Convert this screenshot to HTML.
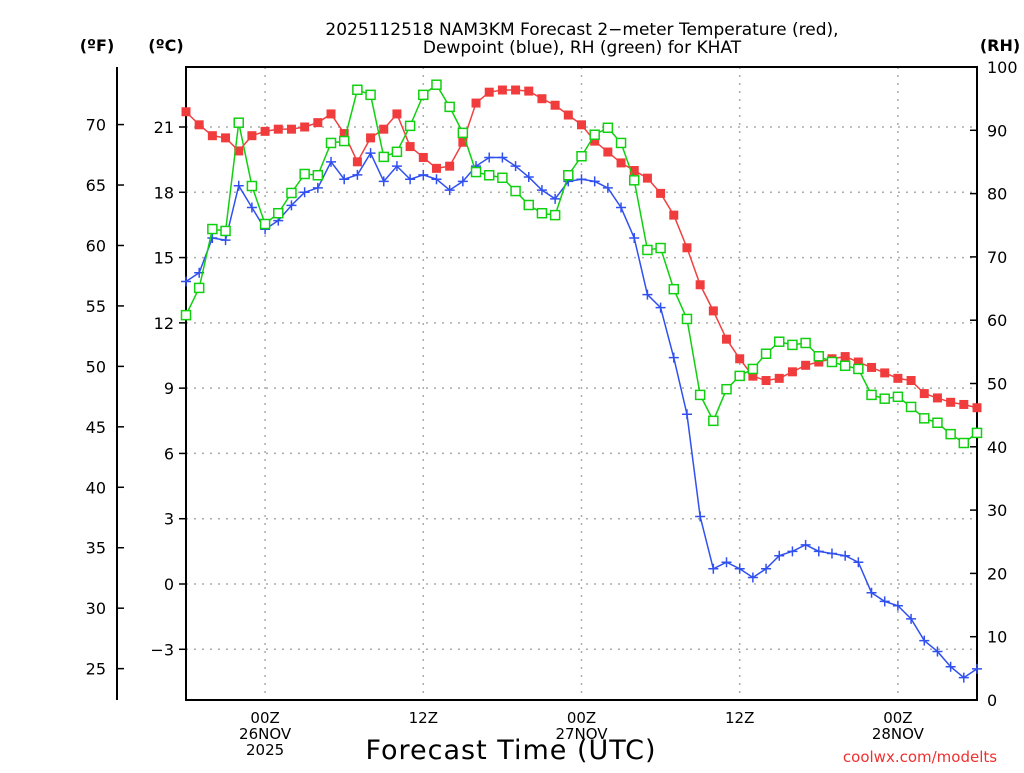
<!DOCTYPE html>
<html><head><meta charset="utf-8"><style>
body{margin:0;background:#fff;width:1024px;height:768px;overflow:hidden}
svg text{font-family:"DejaVu Sans","Liberation Sans",sans-serif;}
</style></head><body>
<svg id="c" width="1024" height="768" xmlns="http://www.w3.org/2000/svg"></svg>
<script>
const hours=[0,1,2,3,4,5,6,7,8,9,10,11,12,13,14,15,16,17,18,19,20,21,22,23,24,25,26,27,28,29,30,31,32,33,34,35,36,37,38,39,40,41,42,43,44,45,46,47,48,49,50,51,52,53,54,55,56,57,58,59,60];
const tempC=[21.7,21.1,20.6,20.5,19.9,20.6,20.8,20.9,20.9,21.0,21.2,21.6,20.7,19.4,20.5,20.9,21.6,20.1,19.6,19.1,19.2,20.3,22.1,22.6,22.7,22.7,22.65,22.3,22.0,21.55,21.1,20.35,19.85,19.35,19.0,18.65,17.95,16.95,15.45,13.75,12.55,11.25,10.35,9.55,9.35,9.45,9.75,10.05,10.2,10.35,10.45,10.2,9.95,9.7,9.45,9.35,8.75,8.55,8.35,8.25,8.1];
const dewC=[13.9,14.3,15.9,15.8,18.3,17.3,16.3,16.7,17.4,18.0,18.2,19.4,18.6,18.8,19.8,18.5,19.2,18.6,18.8,18.6,18.1,18.5,19.2,19.6,19.6,19.2,18.7,18.1,17.7,18.5,18.6,18.5,18.2,17.3,15.9,13.3,12.7,10.4,7.8,3.1,0.7,1.0,0.7,0.3,0.7,1.3,1.5,1.8,1.5,1.4,1.3,1.0,-0.4,-0.8,-1.0,-1.6,-2.6,-3.1,-3.8,-4.3,-3.9];
const rh=[60.8,65.1,74.4,74.1,91.2,81.2,75.2,76.9,80.1,83.1,82.9,88.0,88.3,96.4,95.6,85.8,86.6,90.7,95.6,97.2,93.7,89.6,83.4,82.9,82.5,80.4,78.2,76.9,76.6,82.9,85.9,89.3,90.4,88.0,82.1,71.1,71.4,64.9,60.2,48.2,44.1,49.1,51.2,52.3,54.7,56.6,56.1,56.4,54.3,53.4,52.8,52.3,48.2,47.6,47.9,46.3,44.5,43.8,42.0,40.6,42.2];
const cTicks=[-3,0,3,6,9,12,15,18,21];
const fTicks=[25,30,35,40,45,50,55,60,65,70];
const rhTicks=[0,10,20,30,40,50,60,70,80,90,100];
const xTicks=[{h:6,l:["00Z","26NOV","2025"]},{h:18,l:["12Z"]},{h:30,l:["00Z","27NOV"]},{h:42,l:["12Z"]},{h:54,l:["00Z","28NOV"]}];
</script>
<script>
const S=document.getElementById('c'),NS='http://www.w3.org/2000/svg';
const L=186,R=977,T=67,B=700;
const x=h=>L+h*(R-L)/60;
const yC=c=>584-c*21.762;
const yF=f=>yC((f-32)*5/9);
const yR=r=>B-r*(B-T)/100;
function el(t,a,p){const e=document.createElementNS(NS,t);for(const k in a)e.setAttribute(k,a[k]);(p||S).appendChild(e);return e;}
function txt(s,a){const e=el('text',a);e.textContent=s;return e;}
cTicks.forEach(c=>{const g=el('line',{x1:L,x2:R,y1:yC(c),y2:yC(c),stroke:'#aaa','stroke-width':1.5,'stroke-dasharray':'2,6'});

});
xTicks.forEach(t=>{const g=el('line',{x1:x(t.h),x2:x(t.h),y1:T,y2:B,stroke:'#aaa','stroke-width':1.5,'stroke-dasharray':'2,6'});

});
const fr=el('rect',{x:L,y:T,width:R-L,height:B-T,fill:'none',stroke:'#000','stroke-width':2});


const fa=el('line',{x1:117,x2:117,y1:67,y2:700,stroke:'#000','stroke-width':2});


cTicks.forEach(c=>{el('line',{x1:L-7,x2:L,y1:yC(c),y2:yC(c),stroke:'#000','stroke-width':1.5});
const t=txt((c<0?'\u2212'+(-c):''+c),{x:174,y:yC(c)+6,'font-size':16,'text-anchor':'end'});

});
fTicks.forEach(f=>{el('line',{x1:117,x2:124,y1:yF(f),y2:yF(f),stroke:'#000','stroke-width':1.5});
const t=txt(''+f,{x:106,y:yF(f)+6,'font-size':16,'text-anchor':'end'});

});
rhTicks.forEach(r=>{el('line',{x1:R,x2:R-7,y1:yR(r),y2:yR(r),stroke:'#000','stroke-width':1.5});
const t=txt(''+r,{x:987,y:yR(r)+6,'font-size':16,'text-anchor':'start'});

});
xTicks.forEach(tk=>{tk.l.forEach((s,i)=>{const t=txt(s,{x:x(tk.h),y:723+i*16,'font-size':15,'text-anchor':'middle'});

});});
function poly(vals,fy,col,name){const p=el('polyline',{points:vals.map((v,i)=>x(hours[i])+','+fy(v)).join(' '),fill:'none',stroke:col,'stroke-width':1.5});

}
poly(tempC,yC,'#f04040','temperature-line');
tempC.forEach((v,i)=>{const m=el('rect',{x:x(hours[i])-4.5,y:yC(v)-4.5,width:9,height:9,fill:'#f03c3c'});

});
poly(dewC,yC,'#3050f0','dewpoint-line');
dewC.forEach((v,i)=>{const g=el('path',{d:`M${x(hours[i])-5},${yC(v)}h10M${x(hours[i])},${yC(v)-5}v10`,stroke:'#3050f0','stroke-width':1.5});

});
poly(rh,yR,'#10d010','rh-line');
rh.forEach((v,i)=>{const m=el('rect',{x:x(hours[i])-4.5,y:yR(v)-4.5,width:9,height:9,fill:'#fff',stroke:'#10d010','stroke-width':1.5});

});
[['2025112518 NAM3KM Forecast 2\u2212meter Temperature (red),',35],['Dewpoint (blue), RH (green) for KHAT',53]].forEach(a=>{const t=txt(a[0],{x:582,y:a[1],'font-size':17,'text-anchor':'middle'});

});
[['(ºF)',97,'fahrenheit-unit'],['(ºC)',166,'celsius-unit'],['(RH)',1000,'rh-unit']].forEach(a=>{const t=txt(a[0],{x:a[1],y:51,'font-size':16,'font-weight':'bold','text-anchor':'middle'});

});
const xt=txt('Forecast Time (UTC)',{x:511,y:759,'font-size':27,'text-anchor':'middle','letter-spacing':'1'});


const cr=txt('coolwx.com/modelts',{x:920,y:762,'font-size':15,fill:'#f03030','text-anchor':'middle'});


</script>
</body></html>
